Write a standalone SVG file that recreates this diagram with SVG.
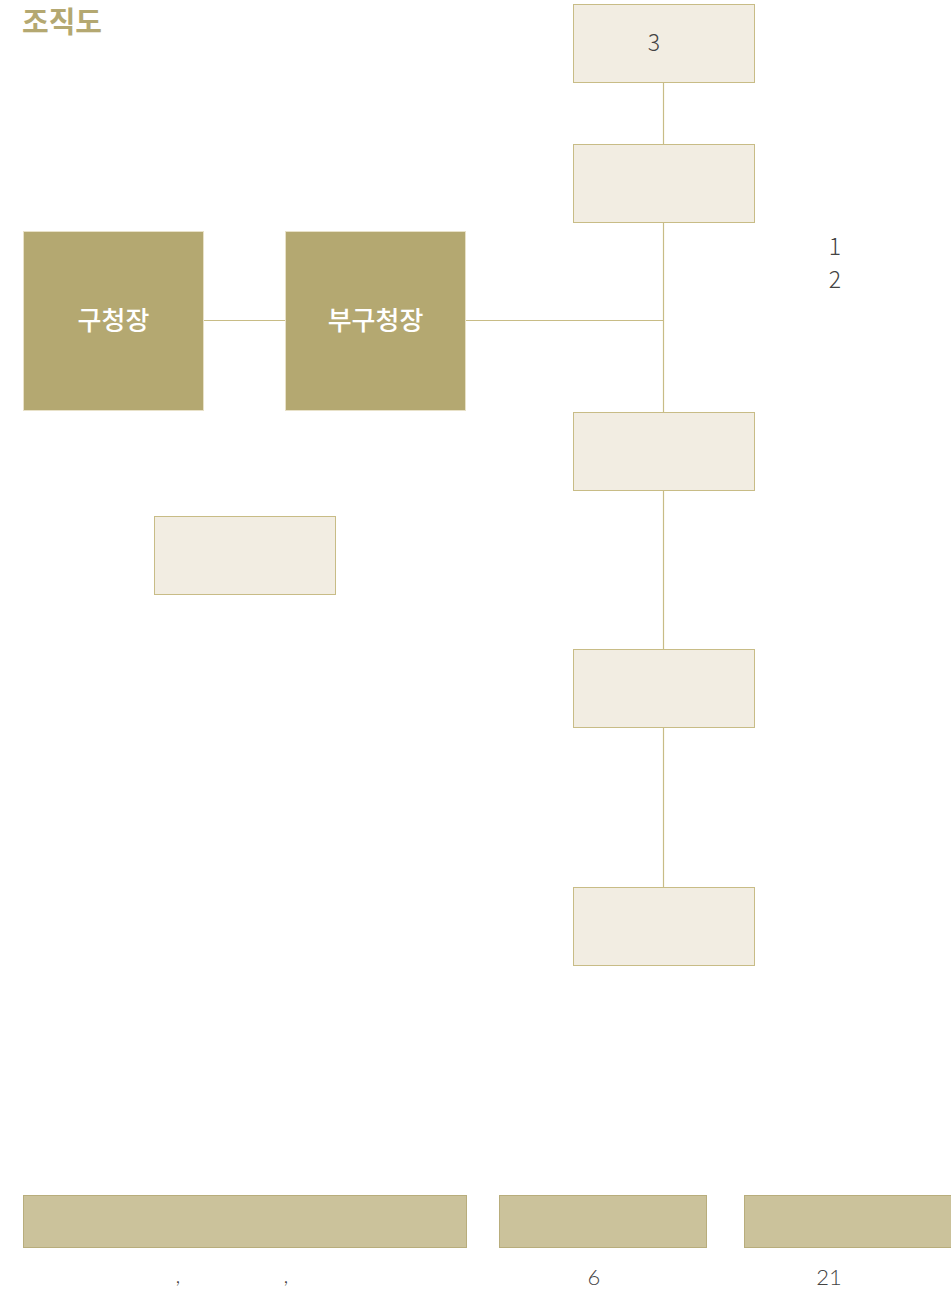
<svg xmlns="http://www.w3.org/2000/svg" width="951" height="1290" viewBox="0 0 951 1290">
<style>
.lt{fill:#f2ede2;stroke:#c8bc86;stroke-width:1}
.dk{fill:#b4a871;stroke:#e8e1c8;stroke-width:1}
.bar{fill:#cbc29b;stroke:#b8ad7c;stroke-width:1}
.ln{stroke:#c8bc86;stroke-width:1.2;fill:none}
.num{font-family:"Noto Sans CJK KR","Lato",sans-serif;font-weight:300;font-size:23px;fill:#444;text-anchor:middle}
.wt{font-family:"Noto Sans CJK KR",sans-serif;font-weight:500;font-size:26px;fill:#fff;text-anchor:middle}
.bot{font-family:"Lato","Noto Sans CJK KR",sans-serif;font-weight:300;font-size:22px;fill:#444;text-anchor:middle}
</style>
<rect width="951" height="1290" fill="#fff"/>
<text x="22" y="33" font-family="'Noto Sans CJK KR',sans-serif" font-weight="700" font-size="29" fill="#b4a871">조직도</text>
<g id="connectors">
<line class="ln" x1="204" y1="320.5" x2="286" y2="320.5"/>
<line class="ln" x1="466" y1="320.5" x2="663.5" y2="320.5"/>
<line class="ln" x1="663.5" y1="82" x2="663.5" y2="144"/>
<line class="ln" x1="663.5" y1="223" x2="663.5" y2="412"/>
<line class="ln" x1="663.5" y1="491" x2="663.5" y2="649"/>
<line class="ln" x1="663.5" y1="728" x2="663.5" y2="887"/>
</g>
<g id="n-top"><rect class="lt" x="573.5" y="4.5" width="181" height="78"/><text class="num" x="654" y="51">3</text></g>
<g id="n-2"><rect class="lt" x="573.5" y="144.5" width="181" height="78"/></g>
<g id="n-3"><rect class="lt" x="573.5" y="412.5" width="181" height="78"/></g>
<g id="n-4"><rect class="lt" x="573.5" y="649.5" width="181" height="78"/></g>
<g id="n-5"><rect class="lt" x="573.5" y="887.5" width="181" height="78"/></g>
<g id="n-side"><rect class="lt" x="154.5" y="516.5" width="181" height="78"/></g>
<g id="n-mayor"><rect class="dk" x="23.5" y="231.5" width="180" height="179"/><text class="wt" x="113.5" y="330">구청장</text></g>
<g id="n-deputy"><rect class="dk" x="285.5" y="231.5" width="180" height="179"/><text class="wt" x="375.5" y="330">부구청장</text></g>
<g id="notes">
<text class="num" x="835" y="255">1</text>
<text class="num" x="835" y="288">2</text>
</g>
<g id="bars">
<rect class="bar" x="23.5" y="1195.5" width="443" height="52"/>
<rect class="bar" x="499.5" y="1195.5" width="207" height="52"/>
<rect class="bar" x="744.5" y="1195.5" width="210" height="52"/>
<text class="bot" x="178" y="1283">,</text>
<text class="bot" x="286" y="1283">,</text>
<text class="bot" x="594" y="1285">6</text>
<text class="bot" x="829" y="1285">21</text>
</g>
</svg>
